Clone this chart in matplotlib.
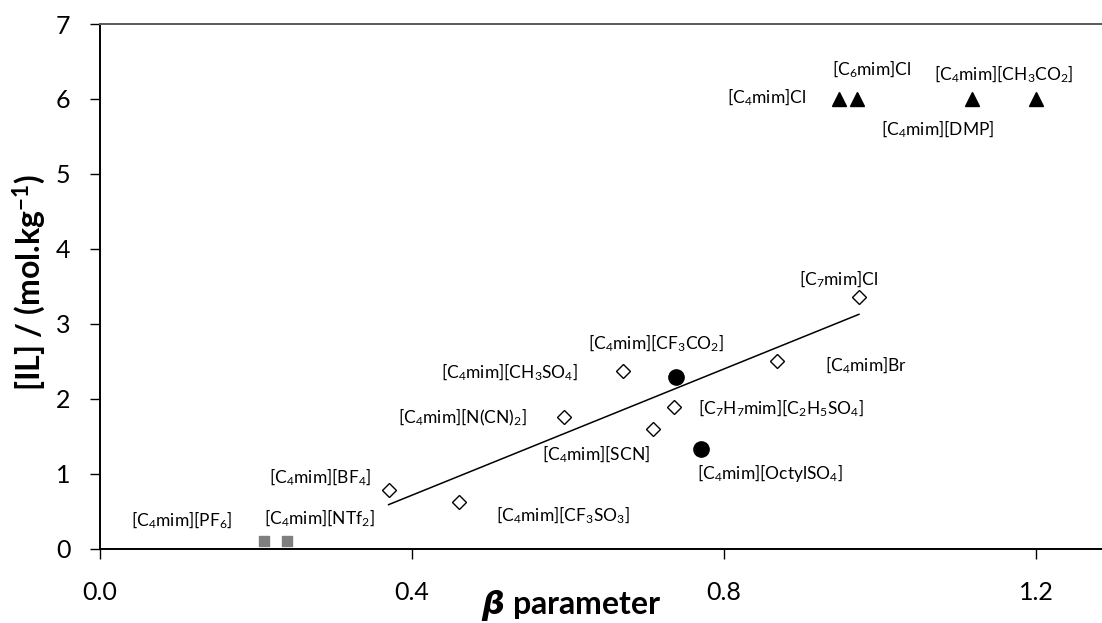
import matplotlib
import matplotlib.pyplot as plt
import numpy as np

matplotlib.use('Agg')

plt.rcParams['font.family'] = ['Lato', 'DejaVu Sans']
plt.rcParams['mathtext.fontset'] = 'custom'
plt.rcParams['mathtext.rm'] = 'Lato'
plt.rcParams['mathtext.it'] = 'Lato:italic'
plt.rcParams['mathtext.bf'] = 'Lato:bold'
plt.rcParams['mathtext.bfit'] = 'DejaVu Sans:bold:italic'

# open diamonds (used for the fit)
diamond_names = ["[C$_4$mim][BF$_4$]", "[C$_4$mim][CF$_3$SO$_3$]", "[C$_4$mim][N(CN)$_2$]",
                 "[C$_4$mim][CH$_3$SO$_4$]", "[C$_4$mim][SCN]", "[C$_7$H$_7$mim][C$_2$H$_5$SO$_4$]",
                 "[C$_4$mim]Br", "[C$_7$mim]Cl"]
diamond_beta = [0.37, 0.46, 0.595, 0.67, 0.709, 0.736, 0.868, 0.973]
diamond_il = [0.78, 0.62, 1.76, 2.37, 1.60, 1.89, 2.50, 3.36]

# filled circles
circle_names = ["[C$_4$mim][CF$_3$CO$_2$]", "[C$_4$mim][OctylSO$_4$]"]
circle_beta = [0.738, 0.77]
circle_il = [2.29, 1.33]

# triangles
tri_names = ["[C$_4$mim]Cl", "[C$_6$mim]Cl", "[C$_4$mim][DMP]", "[C$_4$mim][CH$_3$CO$_2$]"]
tri_beta = [0.947, 0.97, 1.118, 1.20]
tri_il = [6.0, 6.0, 6.0, 6.0]

# grey squares
square_names = ["[C$_4$mim][PF$_6$]", "[C$_4$mim][NTf$_2$]"]
square_beta = [0.21, 0.24]
square_il = [0.10, 0.10]

# label offsets from each point, in pixels
diamond_offsets = [(-68, 13), (104, -13), (-102, -1), (-113, -1), (-57, -26), (107, -1), (89, -4), (-20, 17)]
circle_offsets = [(-20, 34), (69, -24)]
tri_offsets = [(-72, 2), (15, 30), (-34, -30), (-32, 25)]
square_offsets = [(-82, 21), (32, 23)]

fig = plt.figure(figsize=(11.02, 6.23), dpi=100)
ax = fig.add_axes([100 / 1102, 74.5 / 623, 1002 / 1102, 524.5 / 623])

ax.plot(diamond_beta, diamond_il, linestyle='none', marker='D', markersize=7.5,
        markerfacecolor='white', markeredgecolor='black', markeredgewidth=1.0, zorder=3)
ax.plot(circle_beta, circle_il, linestyle='none', marker='o', markersize=11,
        color='black', zorder=3)
ax.plot(tri_beta, tri_il, linestyle='none', marker='^', markersize=10,
        color='black', zorder=3)
ax.plot(square_beta, square_il, linestyle='none', marker='s', markersize=7.5,
        color='#7f7f7f', zorder=3)

# linear trend through the diamond set
slope, intercept = np.polyfit(diamond_beta, diamond_il, 1)
xfit = np.array([min(diamond_beta), max(diamond_beta)])
ax.plot(xfit, slope * xfit + intercept, color='black', linewidth=1.1, zorder=2)


def label_points(names, xs, ys, offsets):
    for name, x, y, (dx, dy) in zip(names, xs, ys, offsets):
        ax.annotate(name, (x, y), xytext=(dx * 0.72, dy * 0.72), textcoords='offset points',
                    ha='center', va='center', fontsize=12.5)


label_points(diamond_names, diamond_beta, diamond_il, diamond_offsets)
label_points(circle_names, circle_beta, circle_il, circle_offsets)
label_points(tri_names, tri_beta, tri_il, tri_offsets)
label_points(square_names, square_beta, square_il, square_offsets)

ax.set_xlim(0, 1002 / 780)
ax.set_ylim(0, 7)

ax.set_xticks([0.0, 0.4, 0.8, 1.2])
ax.set_xticklabels(["0.0", "0.4", "0.8", "1.2"])
ax.set_yticks(range(8))

ax.tick_params(axis='both', direction='out', length=7.2, width=1.0, labelsize=18, color='black')
ax.tick_params(axis='x', pad=16)
ax.tick_params(axis='y', pad=14)

ax.spines['right'].set_visible(False)
ax.spines['top'].set_color('#595959')
for side in ['left', 'bottom', 'top']:
    ax.spines[side].set_linewidth(1.4)

ax.set_xlabel(r"$\boldsymbol{\beta}$ parameter", fontsize=23, fontweight='bold', va='center')
ax.xaxis.set_label_coords(0.470, -0.108)
ax.set_ylabel("[IL] / (mol.kg$^{\\mathbf{-1}}$)", fontsize=23, fontweight='bold', va='center')
ax.yaxis.set_label_coords(-0.071, 0.506)

plt.savefig("out.png", dpi=100)
plt.close()
